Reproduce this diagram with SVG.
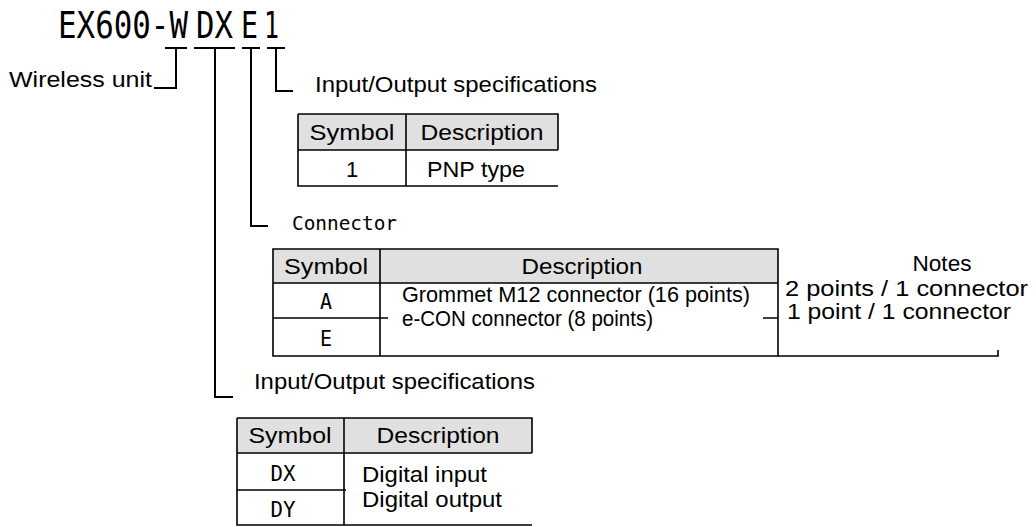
<svg xmlns="http://www.w3.org/2000/svg" width="1036" height="527" viewBox="0 0 1036 527">
<style>
.t{font-family:"Liberation Sans",Arial,sans-serif;font-size:22px;fill:#000}
.m{font-family:"DejaVu Sans Mono","Liberation Mono",monospace;fill:#000}
.ttl{font-family:"DejaVu Sans Mono","Liberation Mono",monospace;font-size:31px;fill:#000}
.ln{stroke:#000;stroke-width:2;fill:none}
.tb{stroke:#000;stroke-width:1.6;fill:none}
.hd{fill:#e0e0e0;stroke:none}
</style>
<rect width="1036" height="527" fill="#fff"/>
<g id="title" transform="translate(0,38) scale(1,1.18)">
<text class="ttl" x="58" y="0" textLength="130" lengthAdjust="spacingAndGlyphs">EX600-W</text>
<text class="ttl" x="196" y="0" textLength="37" lengthAdjust="spacingAndGlyphs">DX</text>
<text class="ttl" x="241" y="0" textLength="17" lengthAdjust="spacingAndGlyphs">E</text>
<text class="ttl" x="264" y="0" textLength="15" lengthAdjust="spacingAndGlyphs">1</text>
</g>
<g id="wireless-unit">
<text class="t" x="9" y="87" font-size="21" textLength="143" lengthAdjust="spacingAndGlyphs">Wireless unit</text>
</g>
<g id="io-spec-1">
<text class="t" x="315" y="92" textLength="282" lengthAdjust="spacingAndGlyphs">Input/Output specifications</text>
<rect class="hd" x="298" y="114" width="260" height="36"/>
<path class="tb" d="M298,114H558V150M298,114V186H558M406,114V186M298,150H558"/>
<text class="t" x="352" y="140" text-anchor="middle" textLength="85" lengthAdjust="spacingAndGlyphs">Symbol</text>
<text class="t" x="482" y="140" text-anchor="middle" textLength="123" lengthAdjust="spacingAndGlyphs">Description</text>
<text class="t" x="352" y="177" text-anchor="middle">1</text>
<text class="t" x="427" y="177" textLength="98" lengthAdjust="spacingAndGlyphs">PNP type</text>
</g>
<g id="connector">
<text class="m" x="292" y="230" font-size="20" textLength="105" lengthAdjust="spacingAndGlyphs">Connector</text>
<rect class="hd" x="273" y="249" width="505" height="34"/>
<path class="tb" d="M273,249H778V356H273ZM380,249V356M273,283H778M273,318H388M763,318H778"/>
<text class="t" x="326" y="274" text-anchor="middle" textLength="84" lengthAdjust="spacingAndGlyphs">Symbol</text>
<text class="t" x="582" y="274" text-anchor="middle" textLength="121" lengthAdjust="spacingAndGlyphs">Description</text>
<text class="m" x="326" y="309" font-size="22" text-anchor="middle" textLength="12" lengthAdjust="spacingAndGlyphs">A</text>
<text class="m" x="326" y="346" font-size="22" text-anchor="middle" textLength="12" lengthAdjust="spacingAndGlyphs">E</text>
<text class="t" x="402" y="302" font-size="17" textLength="348" lengthAdjust="spacingAndGlyphs">Grommet M12 connector (16 points)</text>
<text class="t" x="402" y="326" font-size="21" textLength="251" lengthAdjust="spacingAndGlyphs">e-CON connector (8 points)</text>
</g>
<g id="notes">
<path class="tb" d="M778,356H998V350"/>
<text class="t" x="942" y="271" font-size="21" text-anchor="middle" textLength="59" lengthAdjust="spacingAndGlyphs">Notes</text>
<text class="t" x="785" y="296" font-size="21" textLength="243" lengthAdjust="spacingAndGlyphs">2 points / 1 connector</text>
<text class="t" x="787" y="319" font-size="21" textLength="224" lengthAdjust="spacingAndGlyphs">1 point / 1 connector</text>
</g>
<g id="io-spec-2">
<text class="t" x="254" y="389" textLength="281" lengthAdjust="spacingAndGlyphs">Input/Output specifications</text>
<rect class="hd" x="237" y="418" width="295" height="35"/>
<path class="tb" d="M237,418H532V453M237,418V525H532M344,418V525M237,453H532M237,490H346"/>
<text class="t" x="290" y="443" text-anchor="middle" textLength="83" lengthAdjust="spacingAndGlyphs">Symbol</text>
<text class="t" x="438" y="443" text-anchor="middle" textLength="123" lengthAdjust="spacingAndGlyphs">Description</text>
<text class="m" x="283" y="481" font-size="21" text-anchor="middle" textLength="25" lengthAdjust="spacingAndGlyphs">DX</text>
<text class="m" x="283" y="517" font-size="21" text-anchor="middle" textLength="25" lengthAdjust="spacingAndGlyphs">DY</text>
<text class="t" x="362" y="482" textLength="125" lengthAdjust="spacingAndGlyphs">Digital input</text>
<text class="t" x="362" y="507" textLength="140" lengthAdjust="spacingAndGlyphs">Digital output</text>
</g>
<g id="connectors">
<path class="ln" d="M165,48H187M176,48V88H154"/>
<path class="ln" d="M194,48H235M215,48V397H233"/>
<path class="ln" d="M242,48H260M251,48V226H268"/>
<path class="ln" d="M267,48H285M276,48V91H293"/>
</g>
</svg>
